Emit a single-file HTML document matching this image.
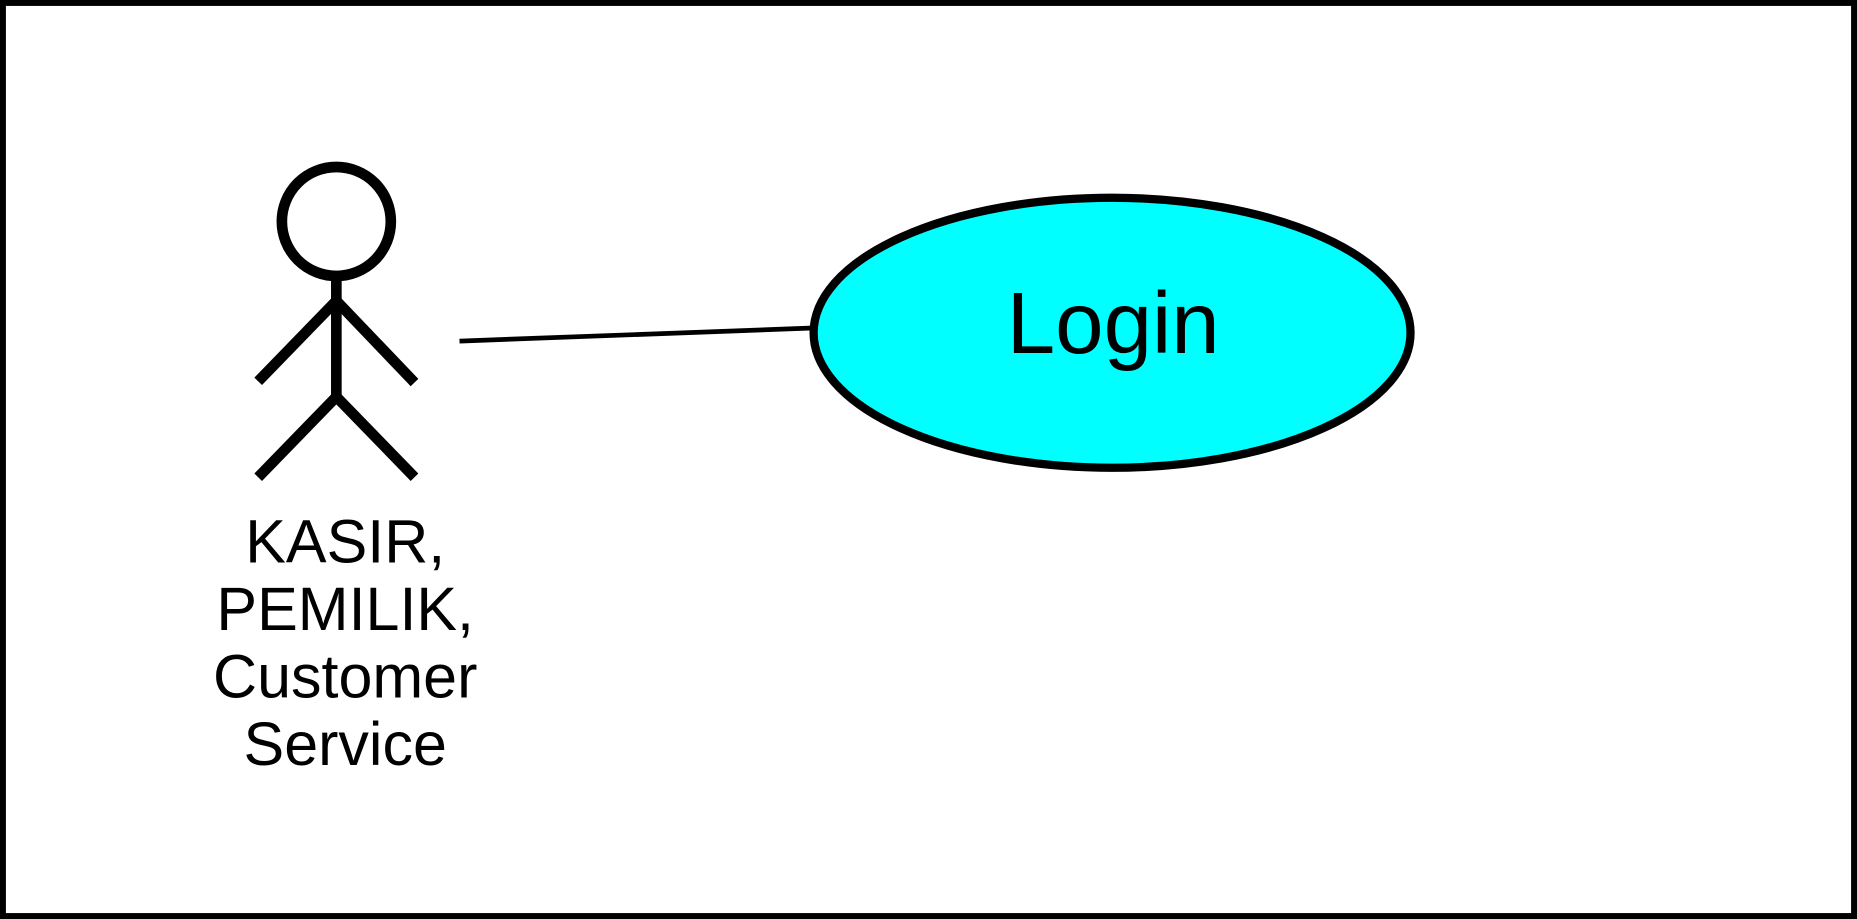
<!DOCTYPE html>
<html><head><style>
html,body{margin:0;padding:0;background:#fff;}
svg{display:block;}
</style></head><body>
<svg width="1857" height="919" viewBox="0 0 1568 776" preserveAspectRatio="none" xmlns="http://www.w3.org/2000/svg">
<rect x="2.5" y="2.5" width="1563" height="771" fill="#fff" stroke="#000" stroke-width="5"/>
<circle cx="284" cy="187" r="46" fill="#fff" stroke="#000" stroke-width="9"/>
<g stroke="#000" stroke-width="9" fill="none">
<line x1="284" y1="233" x2="284" y2="339"/>
<polyline points="218,322 284,254 350,323"/>
<polyline points="218,403 284,335 350,403"/>
</g>
<line x1="388" y1="288" x2="686" y2="277" stroke="#000" stroke-width="4"/>
<ellipse cx="939" cy="281" rx="252" ry="114" fill="#00ffff" stroke="#000" stroke-width="7"/>
<text x="940" y="298" text-anchor="middle" font-family="Liberation Sans, sans-serif" font-size="73.5">Login</text>
<g font-family="Liberation Sans, sans-serif" font-size="51.5" text-anchor="middle">
<text x="291.5" y="475">KASIR,</text>
<text x="291.5" y="532">PEMILIK,</text>
<text x="291.5" y="589">Customer</text>
<text x="291.5" y="646">Service</text>
</g>
</svg>
</body></html>
